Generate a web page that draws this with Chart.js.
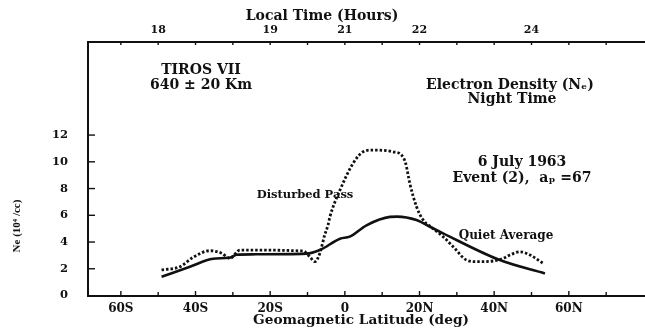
<!DOCTYPE html>
<html><head><meta charset="utf-8">
<script src="https://cdn.jsdelivr.net/npm/chart.js@4.4.1/dist/chart.umd.min.js"></script>
<style>html,body{margin:0;padding:0;background:#fff;overflow:hidden}#wrap{width:645px;height:328px}</style>
</head><body><div id="wrap"><canvas id="c" width="645" height="328"></canvas></div>
<script>
// ---- data ----
const quietLat = [-49.1, -41.5, -35.3, -31.0, -29.0, -25.0, -10.3, -6.7, -1.3, 1.3, 5.8, 12.1, 14.0, 19.2, 22.8, 26.3, 41.5, 53.6];
const quietNe  = [1.40, 2.15, 2.75, 2.82, 3.05, 3.08, 3.13, 3.40, 4.25, 4.40, 5.25, 5.88, 5.90, 5.64, 5.14, 4.65, 2.65, 1.65];

const disturbedLat = [-49.1, -44.2, -40.6, -36.2, -33.0, -30.8, -28.1, -11.2, -9.4, -8.0, -6.7, -5.4, -4.5, -4.0, -1.3, 2.2, 4.9, 7.6, 12.9, 15.2, 16.3, 17.4, 19.2, 21.0, 23.2, 26.3, 29.0, 32.6, 35.3, 39.7, 42.4, 44.2, 46.9, 49.6, 53.1];
const disturbedNe  = [1.91, 2.15, 2.86, 3.35, 3.16, 2.78, 3.40, 3.33, 2.90, 2.53, 3.16, 4.52, 5.27, 5.89, 7.89, 9.88, 10.75, 10.88, 10.75, 10.50, 9.88, 8.39, 6.64, 5.64, 5.10, 4.40, 3.65, 2.65, 2.53, 2.58, 2.78, 3.03, 3.27, 3.03, 2.41];

const latTicks = [-60, -50, -40, -30, -20, -10, 0, 10, 20, 30, 40, 50, 60, 70];
const latLabelValues = [-60, -40, -20, 0, 20, 40, 60];
const latLabelTexts  = ['60S', '40S', '20S', '0', '20N', '40N', '60N'];
const localTimeValues = [-50, -20, 0, 20, 50];
const localTimeLabels = ['18', '19', '21', '22', '24'];
const neTicks = [0, 2, 4, 6, 8, 10, 12];

// ---- chart ----
const INK = '#111';
const serifWide = 'DejaVu Serif';
const toPts = (xs, ys) => xs.map((x, i) => ({x: x, y: ys[i]}));
const noGrid = {display: false, drawTicks: false, tickLength: 0};

const innerTicks = {
  id: 'innerTicks',
  afterDraw(chart) {
    const ctx = chart.ctx, s = chart.scales;
    ctx.save();
    ctx.strokeStyle = INK; ctx.lineWidth = 1.4;
    s.x.ticks.forEach(t => {
      const p = s.x.getPixelForValue(t.value);
      const len = latLabelValues.includes(t.value) ? 4.5 : 3.5;
      ctx.beginPath(); ctx.moveTo(p, s.x.top); ctx.lineTo(p, s.x.top - len); ctx.stroke();
    });
    s.x2.ticks.forEach(t => {
      const p = s.x2.getPixelForValue(t.value);
      ctx.beginPath(); ctx.moveTo(p, s.x2.bottom); ctx.lineTo(p, s.x2.bottom + 3.5); ctx.stroke();
    });
    s.y.ticks.forEach(t => {
      if (t.value === 0) return;
      const p = s.y.getPixelForValue(t.value);
      ctx.beginPath(); ctx.moveTo(s.y.right, p); ctx.lineTo(s.y.right + 7, p); ctx.stroke();
    });
    ctx.restore();
  }
};

const annotations = {
  id: 'annotations',
  afterDraw(chart) {
    const ctx = chart.ctx;
    ctx.save();
    ctx.fillStyle = INK;
    ctx.textAlign = 'center';
    ctx.textBaseline = 'middle';
    const t = (txt, x, y, size, fam) => {
      ctx.font = 'bold ' + size + 'px "' + (fam || serifWide) + '"';
      ctx.fillText(txt, x, y);
    };
    t('Local Time (Hours)', 322, 16, 14);
    t('TIROS VII', 201, 70, 14);
    t('640 \u00b1 20 Km', 201, 85, 14);
    t('Electron Density (N\u2091)', 510, 85, 14);
    t('Night Time', 512, 99, 14);
    t('6 July 1963', 522, 162, 14);
    t('Event (2),  a\u209a =67', 522, 178, 14);
    t('Disturbed Pass', 305, 195, 11.5);
    t('Quiet Average', 506, 236, 12);
    t('Geomagnetic Latitude (deg)', 361, 320, 13.7);
    ctx.translate(17, 226);
    ctx.rotate(-Math.PI / 2);
    t('Ne (10\u2074 /cc)', 0, 0, 11, 'Liberation Serif');
    ctx.restore();
  }
};

const xMin = -68.8, xMax = 80.4;

new Chart(document.getElementById('c'), {
  type: 'line',
  data: {
    datasets: [
      {
        label: 'Quiet Average',
        data: toPts(quietLat, quietNe),
        borderColor: INK, borderWidth: 2.6,
        pointRadius: 0, cubicInterpolationMode: 'monotone', fill: false
      },
      {
        label: 'Disturbed Pass',
        data: toPts(disturbedLat, disturbedNe),
        borderColor: INK, borderWidth: 2.8, borderDash: [2.5, 2],
        pointRadius: 0, cubicInterpolationMode: 'monotone', fill: false
      }
    ]
  },
  options: {
    responsive: false,
    animation: false,
    layout: {padding: 0},
    plugins: {legend: {display: false}, tooltip: {enabled: false}},
    scales: {
      x: {
        type: 'linear', position: 'bottom', min: xMin, max: xMax,
        grid: noGrid,
        border: {display: true, color: INK, width: 2},
        afterBuildTicks: s => { s.ticks = latTicks.map(v => ({value: v})); },
        afterFit: s => { s.height = 32.5; },
        ticks: {
          autoSkip: false, maxRotation: 0, padding: 6, color: INK,
          font: {family: serifWide, weight: 'bold', size: 12},
          callback: v => { const i = latLabelValues.indexOf(v); return i >= 0 ? latLabelTexts[i] : ''; }
        }
      },
      x2: {
        type: 'linear', position: 'top', min: xMin, max: xMax,
        grid: noGrid,
        border: {display: true, color: INK, width: 2},
        afterBuildTicks: s => { s.ticks = latTicks.map(v => ({value: v})); },
        afterFit: s => { s.height = 41.5; },
        ticks: {
          autoSkip: false, maxRotation: 0, padding: 5, color: INK,
          font: {family: serifWide, weight: 'bold', size: 11},
          callback: v => { const i = localTimeValues.indexOf(v); return i >= 0 ? localTimeLabels[i] : ''; }
        }
      },
      y: {
        type: 'linear', position: 'left', min: 0, max: 19,
        grid: noGrid,
        border: {display: true, color: INK, width: 2},
        afterBuildTicks: s => { s.ticks = neTicks.map(v => ({value: v})); },
        afterFit: s => { s.width = 88; },
        ticks: {
          autoSkip: false, padding: 20, color: INK,
          font: {family: serifWide, weight: 'bold', size: 11.5}
        }
      }
    }
  },
  plugins: [innerTicks, annotations]
});
</script>
</body></html>
